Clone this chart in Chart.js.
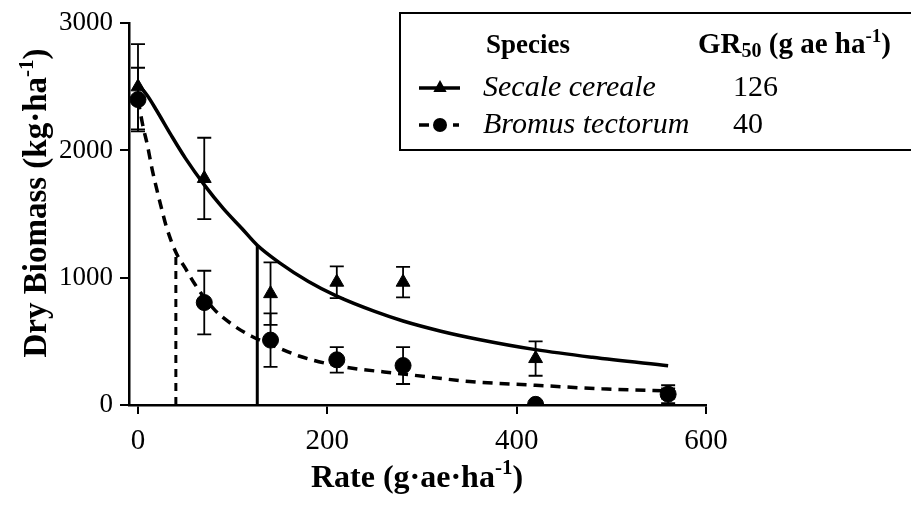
<!DOCTYPE html>
<html>
<head>
<meta charset="utf-8">
<script src="https://cdn.jsdelivr.net/npm/chart.js@4"></script>
<style>
  body { margin: 0; background: #fff; }
  #wrap { width: 911px; height: 514px; position: relative; }
</style>
</head>
<body>
<div id="wrap"><canvas id="c"></canvas></div>
<script>
const rates = [0, 70, 140, 210, 280, 420, 560];
const secaleMean = [2500, 1780, 875, 965, 965, 365, 90];
const secaleErr = [335, 320, 245, 125, 120, 135, 40];
const bromusMean = [2400, 805, 510, 355, 310, 5, 85];
const bromusErr = [250, 250, 210, 100, 145, 0, 70];

// fitted curves
const secaleFitX = [0, 10, 20, 35, 50, 70, 90, 110, 126, 150, 180, 210, 250, 280, 320, 360, 420, 480, 560];
const secaleFitY = [2520, 2430, 2310, 2120, 1940, 1730, 1545, 1385, 1255, 1115, 970, 855, 735, 660, 580, 515, 435, 375, 308];
const bromusFitX = [0, 5, 10, 15, 20, 25, 30, 40, 50, 60, 80, 100, 120, 145, 170, 200, 230, 260, 290, 350, 420, 490, 560];
const bromusFitY = [2400, 2200, 2040, 1850, 1690, 1540, 1400, 1200, 1075, 950, 755, 630, 540, 460, 385, 325, 285, 260, 235, 185, 155, 127, 110];

const species = ["Secale cereale", "Bromus tectorum"];
const gr50 = [126, 40];
const gr50Height = [1255, 1200];

const xTicks = [0, 200, 400, 600];
const yTicks = [0, 1000, 2000, 3000];

const serif = "'Liberation Serif', 'Times New Roman', serif";

function pts(xs, ys) {
  return xs.map((x, i) => ({ x: x, y: ys[i] }));
}

// draws a line of text made of pieces (for sub/superscripts)
function richText(ctx, parts, x, y, align) {
  let w = 0;
  parts.forEach(p => { ctx.font = p.font; w += ctx.measureText(p.t).width; });
  let cx = align === "center" ? x - w / 2 : x;
  parts.forEach(p => {
    ctx.font = p.font;
    ctx.fillText(p.t, cx, y + (p.dy || 0));
    cx += ctx.measureText(p.t).width;
  });
}

function triangle(ctx, x, y, r) {
  ctx.beginPath();
  ctx.moveTo(x, y - r);
  ctx.lineTo(x + r * 0.95, y + r * 0.7);
  ctx.lineTo(x - r * 0.95, y + r * 0.7);
  ctx.closePath();
  ctx.fill();
}

const errorBars = {
  id: "errorBars",
  beforeDatasetsDraw(chart) {
    const ctx = chart.ctx;
    const xs = chart.scales.x, ys = chart.scales.y;
    ctx.save();
    ctx.strokeStyle = "#000";
    ctx.lineWidth = 1.8;
    [[secaleMean, secaleErr], [bromusMean, bromusErr]].forEach(([m, e]) => {
      rates.forEach((r, i) => {
        if (!e[i]) return;
        const px = xs.getPixelForValue(r);
        const top = ys.getPixelForValue(m[i] + e[i]);
        const bot = ys.getPixelForValue(Math.max(0, m[i] - e[i]));
        ctx.beginPath();
        ctx.moveTo(px, top); ctx.lineTo(px, bot);
        ctx.moveTo(px - 7, top); ctx.lineTo(px + 7, top);
        ctx.moveTo(px - 7, bot); ctx.lineTo(px + 7, bot);
        ctx.stroke();
      });
    });
    ctx.restore();
  }
};

const decorations = {
  id: "decorations",
  afterDraw(chart) {
    const ctx = chart.ctx;
    ctx.save();
    ctx.fillStyle = "#000";
    ctx.strokeStyle = "#000";

    // axis titles
    const big = "bold 32px " + serif, sup = "bold 21px " + serif;
    ctx.textBaseline = "alphabetic";
    richText(ctx, [
      { t: "Rate (g\u00b7ae\u00b7ha", font: big },
      { t: "-1", font: sup, dy: -13 },
      { t: ")", font: big }
    ], 417, 487, "center");

    ctx.save();
    ctx.translate(46, 203);
    ctx.rotate(-Math.PI / 2);
    richText(ctx, [
      { t: "Dry Biomass (kg\u00b7ha", font: "bold 33px " + serif },
      { t: "-1", font: sup, dy: -13 },
      { t: ")", font: "bold 33px " + serif }
    ], 0, 0, "center");
    ctx.restore();

    // legend table
    ctx.lineWidth = 2;
    ctx.strokeRect(400, 13, 520, 137);
    ctx.textBaseline = "middle";
    ctx.font = "bold 27px " + serif;
    ctx.fillText("Species", 486, 46);
    richText(ctx, [
      { t: "GR", font: "bold 29px " + serif },
      { t: "50", font: "bold 20px " + serif, dy: 6 },
      { t: " (g ae ha", font: "bold 29px " + serif },
      { t: "-1", font: "bold 19px " + serif, dy: -9 },
      { t: ")", font: "bold 29px " + serif }
    ], 698, 46, "left");

    const rowsY = [88, 125];
    species.forEach((s, i) => {
      const y = rowsY[i];
      ctx.font = "italic 30px " + serif;
      ctx.fillText(s, 483, y);
      ctx.font = "30px " + serif;
      ctx.fillText(String(gr50[i]), 733, y);
      ctx.lineWidth = 3.5;
      ctx.beginPath();
      if (i === 0) {
        ctx.moveTo(419, y); ctx.lineTo(460, y);
        ctx.stroke();
        triangle(ctx, 440, y - 1, 7);
      } else {
        ctx.moveTo(419, y); ctx.lineTo(429, y);
        ctx.moveTo(453, y); ctx.lineTo(459, y);
        ctx.stroke();
        ctx.beginPath();
        ctx.arc(440, y, 7, 0, Math.PI * 2);
        ctx.fill();
      }
    });
    ctx.restore();
  }
};

new Chart(document.getElementById("c"), {
  type: "line",
  data: {
    datasets: [
      {
        label: species[0],
        data: pts(rates, secaleMean),
        showLine: false,
        pointStyle: "triangle",
        pointRadius: 8,
        backgroundColor: "#000",
        borderColor: "#000"
      },
      {
        label: species[1],
        data: pts(rates, bromusMean),
        showLine: false,
        pointStyle: "circle",
        pointRadius: 8,
        backgroundColor: "#000",
        borderColor: "#000"
      },
      {
        label: "fit " + species[0],
        data: pts(secaleFitX, secaleFitY),
        borderColor: "#000",
        borderWidth: 3.5,
        pointRadius: 0,
        cubicInterpolationMode: "monotone"
      },
      {
        label: "fit " + species[1],
        data: pts(bromusFitX, bromusFitY),
        borderColor: "#000",
        borderWidth: 3.5,
        borderDash: [10, 7],
        pointRadius: 0,
        cubicInterpolationMode: "monotone"
      },
      {
        label: "GR50 " + species[0],
        data: [{ x: gr50[0], y: 0 }, { x: gr50[0], y: gr50Height[0] }],
        borderColor: "#000",
        borderWidth: 3,
        pointRadius: 0
      },
      {
        label: "GR50 " + species[1],
        data: [{ x: gr50[1], y: 0 }, { x: gr50[1], y: gr50Height[1] }],
        borderColor: "#000",
        borderWidth: 3,
        borderDash: [8, 6],
        pointRadius: 0
      }
    ]
  },
  options: {
    responsive: true,
    maintainAspectRatio: false,
    animation: false,
    layout: { padding: { top: 23, right: 205, left: 0, bottom: 0 } },
    plugins: { legend: { display: false }, tooltip: { enabled: false } },
    scales: {
      x: {
        type: "linear",
        min: -9.5,
        max: 600,
        afterBuildTicks: s => { s.ticks = xTicks.map(v => ({ value: v })); },
        afterFit: s => { s.height = 109; },
        grid: { drawOnChartArea: false, drawTicks: true, tickLength: 9, color: "#000", lineWidth: 2 },
        border: { display: true, color: "#000", width: 2.5 },
        ticks: { color: "#000", font: { family: serif, size: 29 }, padding: 10, maxRotation: 0 }
      },
      y: {
        min: 0,
        max: 3000,
        afterBuildTicks: s => { s.ticks = yTicks.map(v => ({ value: v })); },
        afterFit: s => { s.width = 129; },
        grid: { drawOnChartArea: false, drawTicks: true, tickLength: 9, color: "#000", lineWidth: 2 },
        border: { display: true, color: "#000", width: 2.5 },
        ticks: { color: "#000", font: { family: serif, size: 27 }, padding: 7, callback: v => String(v) }
      }
    }
  },
  plugins: [errorBars, decorations]
});
</script>
</body>
</html>
